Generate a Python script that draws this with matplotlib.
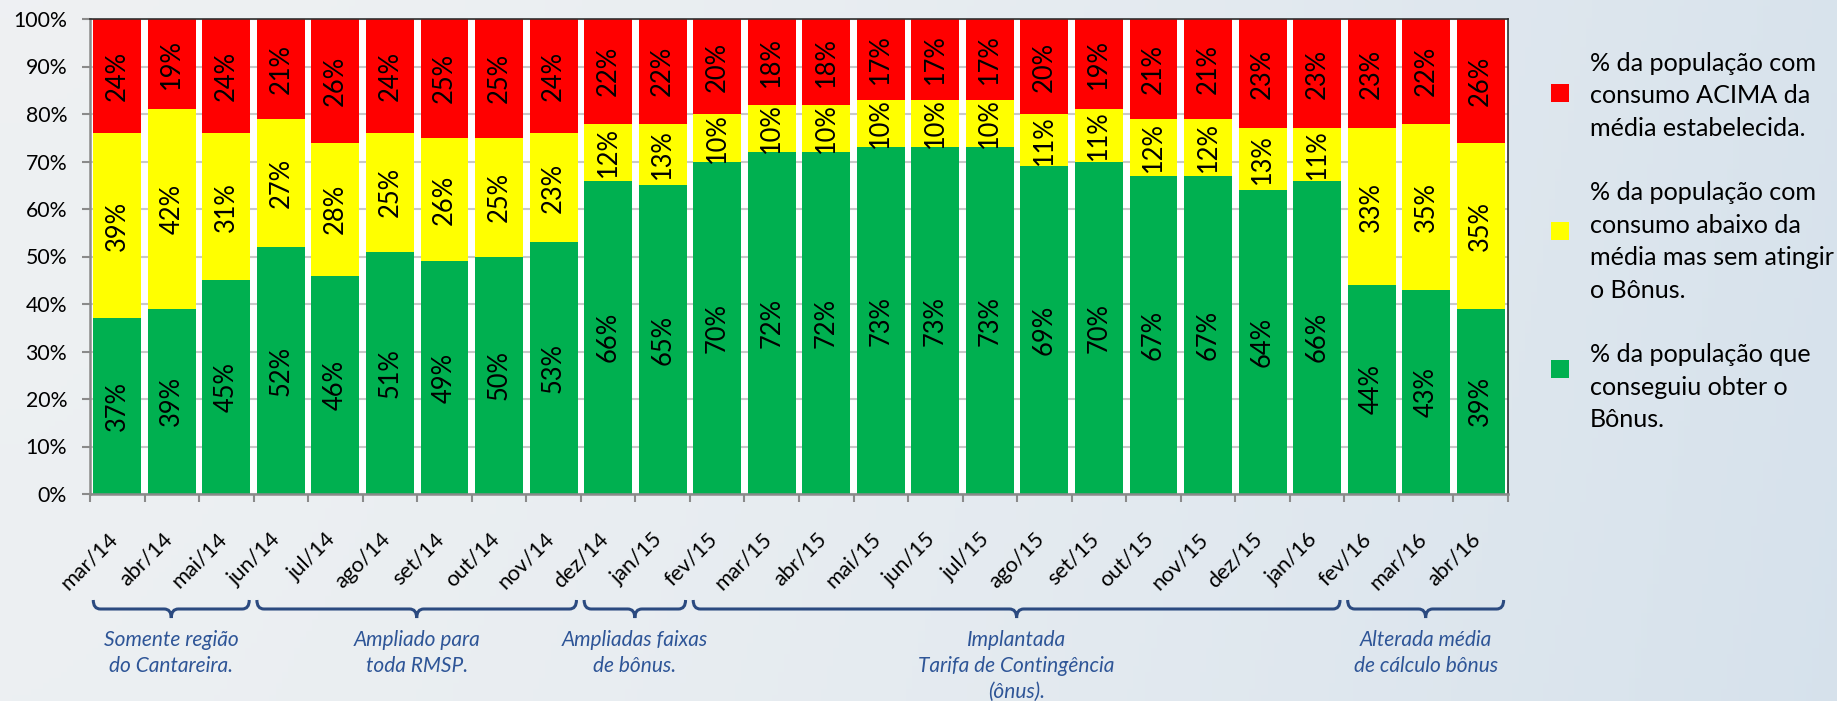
import numpy as np
import matplotlib
matplotlib.use("Agg")
import matplotlib.pyplot as plt
from matplotlib.path import Path
from matplotlib.patches import PathPatch
from matplotlib.transforms import blended_transform_factory, ScaledTranslation
from matplotlib.font_manager import FontProperties

plt.rcParams['font.family'] = ['Lato', 'DejaVu Sans']

months = ["mar/14", "abr/14", "mai/14", "jun/14", "jul/14", "ago/14", "set/14", "out/14",
          "nov/14", "dez/14", "jan/15", "fev/15", "mar/15", "abr/15", "mai/15", "jun/15",
          "jul/15", "ago/15", "set/15", "out/15", "nov/15", "dez/15", "jan/16", "fev/16",
          "mar/16", "abr/16"]
bonus = [37, 39, 45, 52, 46, 51, 49, 50, 53, 66, 65, 70, 72, 72, 73, 73, 73, 69, 70, 67, 67, 64, 66, 44, 43, 39]
abaixo = [39, 42, 31, 27, 28, 25, 26, 25, 23, 12, 13, 10, 10, 10, 10, 10, 10, 11, 11, 12, 12, 13, 11, 33, 35, 35]
acima = [24, 19, 24, 21, 26, 24, 25, 25, 24, 22, 22, 20, 18, 18, 17, 17, 17, 20, 19, 21, 21, 23, 23, 23, 22, 26]

legend_labels = ["% da população com\nconsumo ACIMA da\nmédia estabelecida.",
                 "% da população com\nconsumo abaixo da\nmédia mas sem atingir\no Bônus.",
                 "% da população que\nconseguiu obter o\nBônus."]

groups = [(0, 2, "Somente região\ndo Cantareira."),
          (3, 8, "Ampliado para\ntoda RMSP."),
          (9, 10, "Ampliadas faixas\nde bônus."),
          (11, 22, "Implantada\nTarifa de Contingência\n(ônus)."),
          (23, 25, "Alterada média\nde cálculo bônus")]

W, H = 1837, 701
fig = plt.figure(figsize=(W / 100, H / 100), dpi=100)
renderer = fig.canvas.get_renderer()


def fit_size(s, target_px, rotation=0, style='normal'):
    t = fig.text(0, 0, s, fontsize=20, rotation=rotation, style=style)
    w = t.get_window_extent(renderer).width
    t.remove()
    return 20 * target_px / w


def line_spacing_for(px, size, style='normal'):
    prop = FontProperties(family=['Lato', 'DejaVu Sans'], size=size, style=style)
    w, h, d = renderer.get_text_width_height_descent("lp", prop, ismath=False)
    return 0.89 * px / (h - d)


fs_bar = fit_size("37%", 50)
fs_ytick = fit_size("100%", 54)
fs_xtick = fit_size("mar/14", 65, rotation=45)
fs_leg = fit_size("% da população com", 226)
fs_note = fit_size("Tarifa de Contingência", 196, style='italic')

# background
bg = fig.add_axes([0, 0, 1, 1], zorder=-10)
gx = np.linspace(0, 1, 300)
gy = np.linspace(0, 1, 120)
GX, GY = np.meshgrid(gx, gy)
c_left = np.array([0.935, 0.945, 0.953])
c_right = np.array([0.84, 0.885, 0.925])
t = np.clip(GX ** 1.6 * 0.9 + 0.1 * (1 - GY), 0, 1)[..., None]
img = c_left * (1 - t) + c_right * t
bg.imshow(img, aspect='auto', extent=[0, 1, 0, 1], origin='lower')
bg.set_axis_off()

ax = fig.add_axes([90 / W, 1 - 494 / H, (1508 - 90) / W, (494 - 19) / H])
ax.set_facecolor('white')
x = np.arange(len(months))
bonus_a = np.array(bonus)
abaixo_a = np.array(abaixo)
acima_a = np.array(acima)

bw = 0.88
b1 = ax.bar(x, bonus_a, width=bw, color='#00B050', zorder=2)
b2 = ax.bar(x, abaixo_a, bottom=bonus_a, width=bw, color='#FFFF00', zorder=2)
b3 = ax.bar(x, acima_a, bottom=bonus_a + abaixo_a, width=bw, color='#FF0000', zorder=2)

for cont, vals in ((b1, bonus), (b2, abaixo), (b3, acima)):
    ax.bar_label(cont, labels=[f"{v}%" for v in vals], label_type='center',
                 rotation=90, fontsize=fs_bar, color='black', zorder=3)

ax.set_xlim(-0.5, len(months) - 0.5)
ax.set_ylim(0, 100)
ax.set_yticks(np.arange(0, 101, 10))
ax.set_yticklabels([f"{v}%" for v in range(0, 101, 10)])
ax.yaxis.grid(True, color='#c8c8c8', lw=1.5, zorder=0)
ax.set_axisbelow(True)

ax.set_xticks(x)
ax.set_xticklabels(months, rotation=45, ha='right', va='top')
ax.set_xticks(np.arange(-0.5, len(months), 1), minor=True)
ax.tick_params(axis='x', which='major', length=0, pad=25, labelsize=fs_xtick)
ax.tick_params(axis='x', which='minor', length=5.5, width=1.5, color='#8a8a8a')
ax.tick_params(axis='y', length=5.5, width=1.5, color='#8a8a8a', pad=11, labelsize=fs_ytick)
shift = ScaledTranslation(4 / 100, 0, fig.dpi_scale_trans)
for lbl in ax.get_xticklabels():
    lbl.set_transform(lbl.get_transform() + shift)

for s in ('left', 'bottom'):
    ax.spines[s].set_color('#8a8a8a')
    ax.spines[s].set_linewidth(1.8)
for s in ('top', 'right'):
    ax.spines[s].set_color('#303030')
    ax.spines[s].set_linewidth(1.2)

# braces
trans = blended_transform_factory(ax.transData, fig.transFigure)
y_top = 1 - 600 / H
y_mid = 1 - 609 / H
y_tip = 1 - 618 / H
bcol = '#2b4a80'
dx = 0.13
ls_note = line_spacing_for(24.5, fs_note, style='italic')
for s, e, label in groups:
    x0 = s - 0.5 + 0.06
    x1 = e + 0.5 - 0.08
    xc = (x0 + x1) / 2
    verts = [(x0, y_top), (x0, y_mid), (x0 + dx, y_mid),
             (xc - dx, y_mid), (xc, y_mid), (xc, y_tip),
             (xc, y_mid), (xc + dx, y_mid),
             (x1 - dx, y_mid), (x1, y_mid), (x1, y_top)]
    codes = [Path.MOVETO, Path.CURVE3, Path.CURVE3,
             Path.LINETO, Path.CURVE3, Path.CURVE3,
             Path.CURVE3, Path.CURVE3,
             Path.LINETO, Path.CURVE3, Path.CURVE3]
    ax.add_patch(PathPatch(Path(verts, codes), facecolor='none', edgecolor=bcol,
                           lw=2.2, transform=trans, clip_on=False))
    ax.text(xc, 1 - 630 / H, label, transform=trans, ha='center', va='top',
            fontsize=fs_note, style='italic', color='#2e5597', linespacing=ls_note)

# legend
fs_leg_px = fs_leg * 100 / 72
leg = fig.legend([b3, b2, b1], legend_labels, loc='upper left',
                 bbox_to_anchor=(1551 / W, 1 - 52 / H), frameon=False,
                 borderpad=0, borderaxespad=0,
                 fontsize=fs_leg, handlelength=18 / fs_leg_px, handleheight=18 / fs_leg_px,
                 handletextpad=21 / fs_leg_px, labelspacing=41.5 / fs_leg_px)
ls_leg = line_spacing_for(32, fs_leg)
for txt in leg.get_texts():
    txt.set_linespacing(ls_leg)
# markers in the reference sit evenly spaced, slightly above each text block centre
for hnd, up_px in zip(leg.legend_handles, (4, 11, 19)):
    hnd.set_y(hnd.get_y() + up_px * 72 / 100)

fig.savefig("out.png", dpi=100)
